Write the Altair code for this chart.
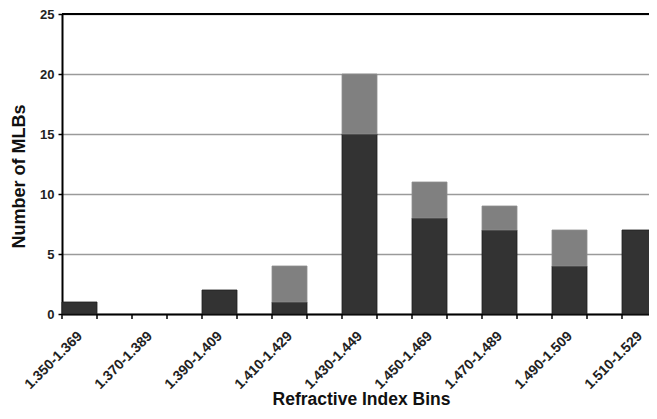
import altair as alt
import pandas as pd

bins = ["1.350-1.369", "1.370-1.389", "1.390-1.409", "1.410-1.429", "1.430-1.449",
        "1.450-1.469", "1.470-1.489", "1.490-1.509", "1.510-1.529"]
dark_vals = [1, 0, 2, 1, 15, 8, 7, 4, 7]
gray_vals = [0, 0, 0, 3, 5, 3, 2, 3, 0]
y_ticks = [0, 5, 10, 15, 20, 25]

rows = []
for b, d, g in zip(bins, dark_vals, gray_vals):
    if d > 0:
        rows.append({"bin": b, "series": "dark", "order": 0, "value": d})
    if g > 0:
        rows.append({"bin": b, "series": "gray", "order": 1, "value": g})
df = pd.DataFrame(rows)
df_bins = pd.DataFrame({"bin": bins})

FONT = "Liberation Sans"
W, H = 595, 300

xscale = alt.Scale(domain=bins, paddingInner=0.5, paddingOuter=0, align=0)
yscale = alt.Scale(domain=[0, 25], nice=False)

bars = alt.Chart(df).mark_bar(strokeWidth=0.8).encode(
    x=alt.X("bin:N", scale=xscale, sort=bins,
            axis=alt.Axis(title="Refractive Index Bins", labels=False,
                          ticks=False, domain=True, domainColor="#000000", domainWidth=2,
                          titleFont=FONT, titleFontSize=17.5,
                          titleFontWeight="bold", titleColor="#111111",
                          titleX=299, titleY=90, titleBaseline="alphabetic",
                          titleAnchor="start", titleAlign="center")),
    y=alt.Y("value:Q", scale=yscale, stack="zero",
            axis=alt.Axis(title="Number of MLBs", values=y_ticks, grid=True,
                          gridColor="#9a9a9a", gridWidth=1.5,
                          domain=True, domainColor="#000000", domainWidth=2,
                          ticks=True, tickSize=4, tickColor="#000000", tickWidth=1.5,
                          labelPadding=4, labelFont=FONT, labelFontSize=13,
                          labelFontWeight="bold", labelColor="#222222",
                          titleFont=FONT, titleFontSize=18, titleFontWeight="bold",
                          titleColor="#111111", titleX=-43, titleY=162,
                          titleAngle=-90, titleAlign="center", titleBaseline="middle")),
    color=alt.Color("series:N", scale=alt.Scale(domain=["dark", "gray"],
                                                range=["#333333", "#808080"]), legend=None),
    stroke=alt.Stroke("series:N", scale=alt.Scale(domain=["dark", "gray"],
                                                  range=["#1e1e1e", "#8e8e8e"]), legend=None),
    order=alt.Order("order:Q"),
)

xlabels = alt.Chart(df_bins).mark_text(
    angle=315, align="right", baseline="top", font=FONT, fontSize=14,
    fontWeight="bold", color="#222222", dx=-6
).encode(
    x=alt.X("bin:N", scale=xscale, sort=bins),
    y=alt.value(H + 11),
    text="bin:N",
)

top_border = alt.Chart(df_bins).mark_rule(color="#000000", strokeWidth=2).encode(
    y=alt.Y(datum=25, scale=yscale), x=alt.value(0), x2=alt.value(W)
)

ticks_left = alt.Chart(df_bins).mark_rule(color="#000000", strokeWidth=1.5).encode(
    x=alt.X("bin:N", scale=xscale, sort=bins, bandPosition=0),
    y=alt.value(H), y2=alt.value(H + 5)
)
ticks_right = alt.Chart(df_bins).mark_rule(color="#000000", strokeWidth=1.5).encode(
    x=alt.X("bin:N", scale=xscale, sort=bins, bandPosition=1),
    y=alt.value(H), y2=alt.value(H + 5)
)

chart = alt.layer(bars, xlabels, top_border, ticks_left, ticks_right).properties(
    width=W, height=H,
    autosize=alt.AutoSizeParams(type="none"),
    padding={"left": 54, "top": 6, "right": -8, "bottom": 94},
).configure_view(stroke=None).configure(background="#ffffff")

chart.save("out.html", embed_options={"renderer": "svg", "actions": False})
